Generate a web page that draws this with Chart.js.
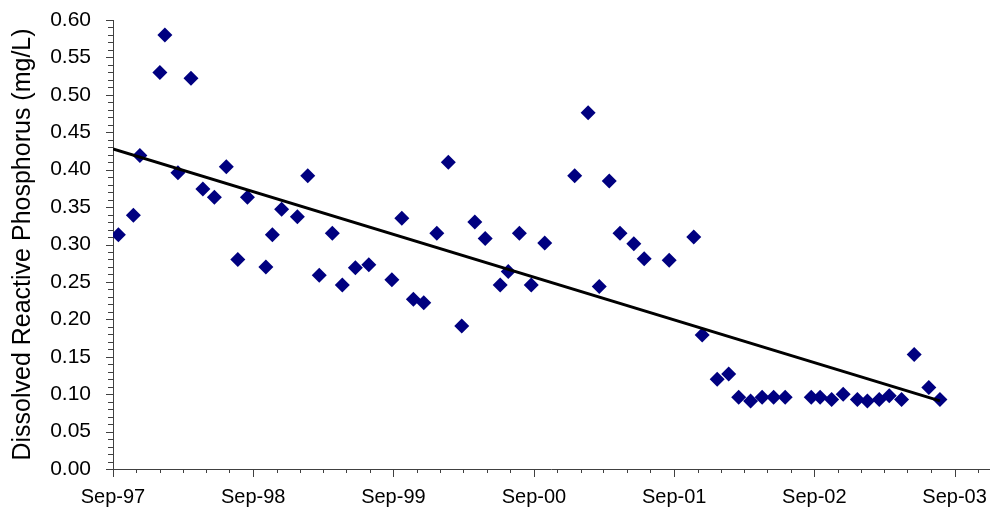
<!DOCTYPE html>
<html>
<head>
<meta charset="utf-8">
<script src="https://cdn.jsdelivr.net/npm/chart.js@4.4.0/dist/chart.umd.min.js"></script>
<style>
  html, body { margin: 0; padding: 0; background: #fff; }
  #wrap { width: 997px; height: 522px; }
</style>
</head>
<body>
<div id="wrap"><canvas id="drpChart"></canvas></div>
<script>
// sampling dates and dissolved reactive phosphorus (mg/L)
const sampleDates = [
  '1997-09-15', '1997-10-24', '1997-11-10', '1998-01-01', '1998-01-14', '1998-02-17',
  '1998-03-23', '1998-04-23', '1998-05-23', '1998-06-23', '1998-07-23', '1998-08-17',
  '1998-10-04', '1998-10-21', '1998-11-14', '1998-12-25', '1999-01-21', '1999-02-20',
  '1999-03-26', '1999-04-21', '1999-05-25', '1999-06-29', '1999-08-28', '1999-09-23',
  '1999-10-23', '1999-11-19', '1999-12-23', '2000-01-22', '2000-02-26', '2000-03-31',
  '2000-04-27', '2000-06-05', '2000-06-26', '2000-07-25', '2000-08-25', '2000-09-29',
  '2000-12-16', '2001-01-20', '2001-02-18', '2001-03-16', '2001-04-13', '2001-05-19',
  '2001-06-15', '2001-08-19', '2001-10-22', '2001-11-13', '2001-12-22', '2002-01-21',
  '2002-02-16', '2002-03-19', '2002-04-18', '2002-05-18', '2002-06-17', '2002-08-24',
  '2002-09-16', '2002-10-16', '2002-11-15', '2002-12-22', '2003-01-17', '2003-02-17',
  '2003-03-15', '2003-04-16', '2003-05-19', '2003-06-26', '2003-07-25'
];
const drpValues = [
  0.313, 0.339, 0.419, 0.530, 0.580, 0.396,
  0.522, 0.374, 0.363, 0.404, 0.280, 0.363,
  0.270, 0.313, 0.347, 0.337, 0.392, 0.259,
  0.315, 0.246, 0.269, 0.273, 0.253, 0.335,
  0.227, 0.222, 0.315, 0.410, 0.191, 0.330,
  0.308, 0.246, 0.264, 0.315, 0.246, 0.302,
  0.392, 0.476, 0.244, 0.385, 0.315, 0.301,
  0.281, 0.279, 0.310, 0.179, 0.120, 0.127,
  0.096, 0.091, 0.096, 0.096, 0.096, 0.096,
  0.096, 0.093, 0.100, 0.093, 0.091, 0.093,
  0.098, 0.093, 0.153, 0.109, 0.093
];
const yearTicks = ['1997-09-01', '1998-09-01', '1999-09-01', '2000-09-01', '2001-09-01', '2002-09-01', '2003-09-01'];
const tickLabels = ['Sep-97', 'Sep-98', 'Sep-99', 'Sep-00', 'Sep-01', 'Sep-02', 'Sep-03'];
const axisStart = '1997-09-01';
const axisEnd = '2003-12-01';

const fontFamily = "'Liberation Sans', Arial, sans-serif";
const axisColor = '#404040';

const points = sampleDates.map((d, i) => ({ x: Date.parse(d), y: drpValues[i] }));

// linear trendline (least squares), like the spreadsheet one
function trendLine(pts, fromX, toX) {
  const n = pts.length;
  let sx = 0, sy = 0, sxx = 0, sxy = 0;
  pts.forEach(p => { sx += p.x; sy += p.y; sxx += p.x * p.x; sxy += p.x * p.y; });
  const slope = (n * sxy - sx * sy) / (n * sxx - sx * sx);
  const icpt = (sy - slope * sx) / n;
  return [{ x: fromX, y: icpt + slope * fromX }, { x: toX, y: icpt + slope * toX }];
}
const trend = trendLine(points, Date.parse(axisStart), points[points.length - 1].x);

// excel style tick marks: y every 0.01, x every two months
const tickMarks = {
  id: 'tickMarks',
  afterDraw(chart) {
    const { ctx, scales: { x, y } } = chart;
    ctx.save();
    ctx.strokeStyle = axisColor;
    ctx.lineWidth = 1;
    ctx.beginPath();
    for (let i = 0; i <= 60; i++) {
      const py = Math.round(y.getPixelForValue(i / 100)) + 0.5;
      const len = i % 5 === 0 ? 7 : 5;
      ctx.moveTo(x.left - len, py);
      ctx.lineTo(x.left, py);
    }
    const endT = Date.parse(axisEnd);
    for (let k = 0; ; k++) {
      const t = Date.UTC(1997, 8 + 2 * k, 1);
      if (t > endT) break;
      const px = Math.round(x.getPixelForValue(t)) + 0.5;
      const len = k % 6 === 0 ? 8 : 4;
      ctx.moveTo(px, y.bottom);
      ctx.lineTo(px, y.bottom + len);
    }
    ctx.stroke();
    ctx.restore();
  }
};

const ctx = document.getElementById('drpChart').getContext('2d');
const chart = new Chart(ctx, {
  type: 'scatter',
  data: {
    datasets: [
      {
        type: 'line',
        label: 'Linear trend',
        data: trend,
        borderColor: '#000000',
        borderWidth: 3,
        pointRadius: 0,
        fill: false,
        order: 0
      },
      {
        label: 'DRP',
        data: points,
        pointStyle: 'rectRot',
        pointRadius: 7.5,
        pointHoverRadius: 7.5,
        backgroundColor: '#000080',
        borderColor: '#000080',
        borderWidth: 0,
        order: 1
      }
    ]
  },
  options: {
    responsive: true,
    maintainAspectRatio: false,
    animation: false,
    layout: { padding: { left: 0, top: 20, right: 7, bottom: 0 } },
    plugins: {
      legend: { display: false },
      tooltip: { enabled: false }
    },
    scales: {
      x: {
        type: 'linear',
        min: Date.parse(axisStart),
        max: Date.parse(axisEnd),
        grid: { display: false, drawTicks: false },
        border: { display: true, color: axisColor, width: 1 },
        afterBuildTicks: function (scale) {
          scale.ticks = yearTicks.map(d => ({ value: Date.parse(d) }));
        },
        afterFit: function (scale) {
          scale.height = 53;
          scale.paddingLeft = 0;
          scale.paddingRight = 0;
        },
        ticks: {
          autoSkip: false,
          maxRotation: 0,
          padding: 16,
          color: '#000',
          font: { family: fontFamily, size: 20 },
          callback: function (value, index) { return tickLabels[index]; }
        }
      },
      y: {
        min: 0,
        max: 0.6,
        grid: { display: false, drawTicks: false },
        border: { display: true, color: axisColor, width: 1 },
        afterFit: function (scale) {
          scale.width = 113;
          scale.paddingTop = 0;
          scale.paddingBottom = 0;
        },
        title: {
          display: true,
          text: 'Dissolved Reactive Phosphorus (mg/L)',
          color: '#000',
          font: { family: fontFamily, size: 25 },
          padding: { top: 8, bottom: 0 }
        },
        ticks: {
          stepSize: 0.05,
          padding: 22,
          color: '#000',
          font: { family: fontFamily, size: 21 },
          callback: function (value) { return value.toFixed(2); }
        }
      }
    }
  },
  plugins: [tickMarks]
});
</script>
</body>
</html>
